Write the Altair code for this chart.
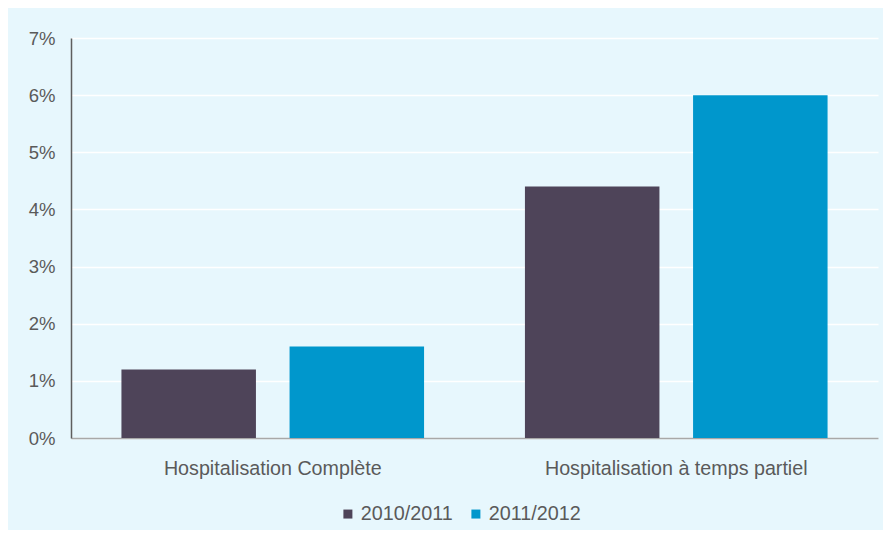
import altair as alt
import pandas as pd

categories = ["Hospitalisation Complète", "Hospitalisation à temps partiel"]
series = ["2010/2011", "2011/2012"]
values_2010 = [0.012, 0.044]
values_2011 = [0.016, 0.060]
colors = ["#4E4459", "#0097CC"]

rows = []
for i, c in enumerate(categories):
    rows.append({"cat": c, "year": series[0], "value": values_2010[i]})
    rows.append({"cat": c, "year": series[1], "value": values_2011[i]})
df = pd.DataFrame(rows)

bars = alt.Chart(df).mark_bar().encode(
    x=alt.X("cat:N", sort=categories, title=None,
            scale=alt.Scale(paddingInner=0.25, paddingOuter=0.125),
            axis=alt.Axis(labelAngle=0, labelFontSize=19.7, labelColor="#5A5A5A",
                          labelFont="Liberation Sans", labelPadding=20, labelLimit=600,
                          ticks=False, tickSize=0, domainColor="#A8A8A8",
                          domainWidth=1.5, grid=False)),
    xOffset=alt.XOffset("year:N", sort=series,
                        scale=alt.Scale(paddingInner=0.2, paddingOuter=0)),
    y=alt.Y("value:Q", title=None,
            scale=alt.Scale(domain=[0, 0.07], nice=False),
            axis=alt.Axis(format=".0%", values=[0, 0.01, 0.02, 0.03, 0.04, 0.05, 0.06, 0.07],
                          labelFontSize=18.5, labelColor="#5A5A5A",
                          labelFont="Liberation Sans", labelPadding=16,
                          ticks=False, tickSize=0, domainColor="#5E5E5E",
                          domainWidth=1.5, gridColor="#FFFFFF", gridWidth=1.5)),
    color=alt.Color("year:N", sort=series,
                    scale=alt.Scale(domain=series, range=colors),
                    legend=alt.Legend(title=None, orient="none", direction="horizontal",
                                      legendX=267, legendY=466,
                                      symbolType="square", symbolSize=81,
                                      symbolStrokeWidth=0, labelFontSize=19.8,
                                      labelColor="#5A5A5A", labelFont="Liberation Sans",
                                      labelOffset=3, columnPadding=13)),
)

chart = bars.properties(
    width=807, height=400,
    autosize=alt.AutoSizeParams(type="none"),
    padding={"left": 63, "top": 30, "right": 5, "bottom": 92},
    background="#E7F7FD",
).configure_view(stroke=None, fill="#E7F7FD")

chart.save("out.html", embed_options={"renderer": "svg", "actions": False})
